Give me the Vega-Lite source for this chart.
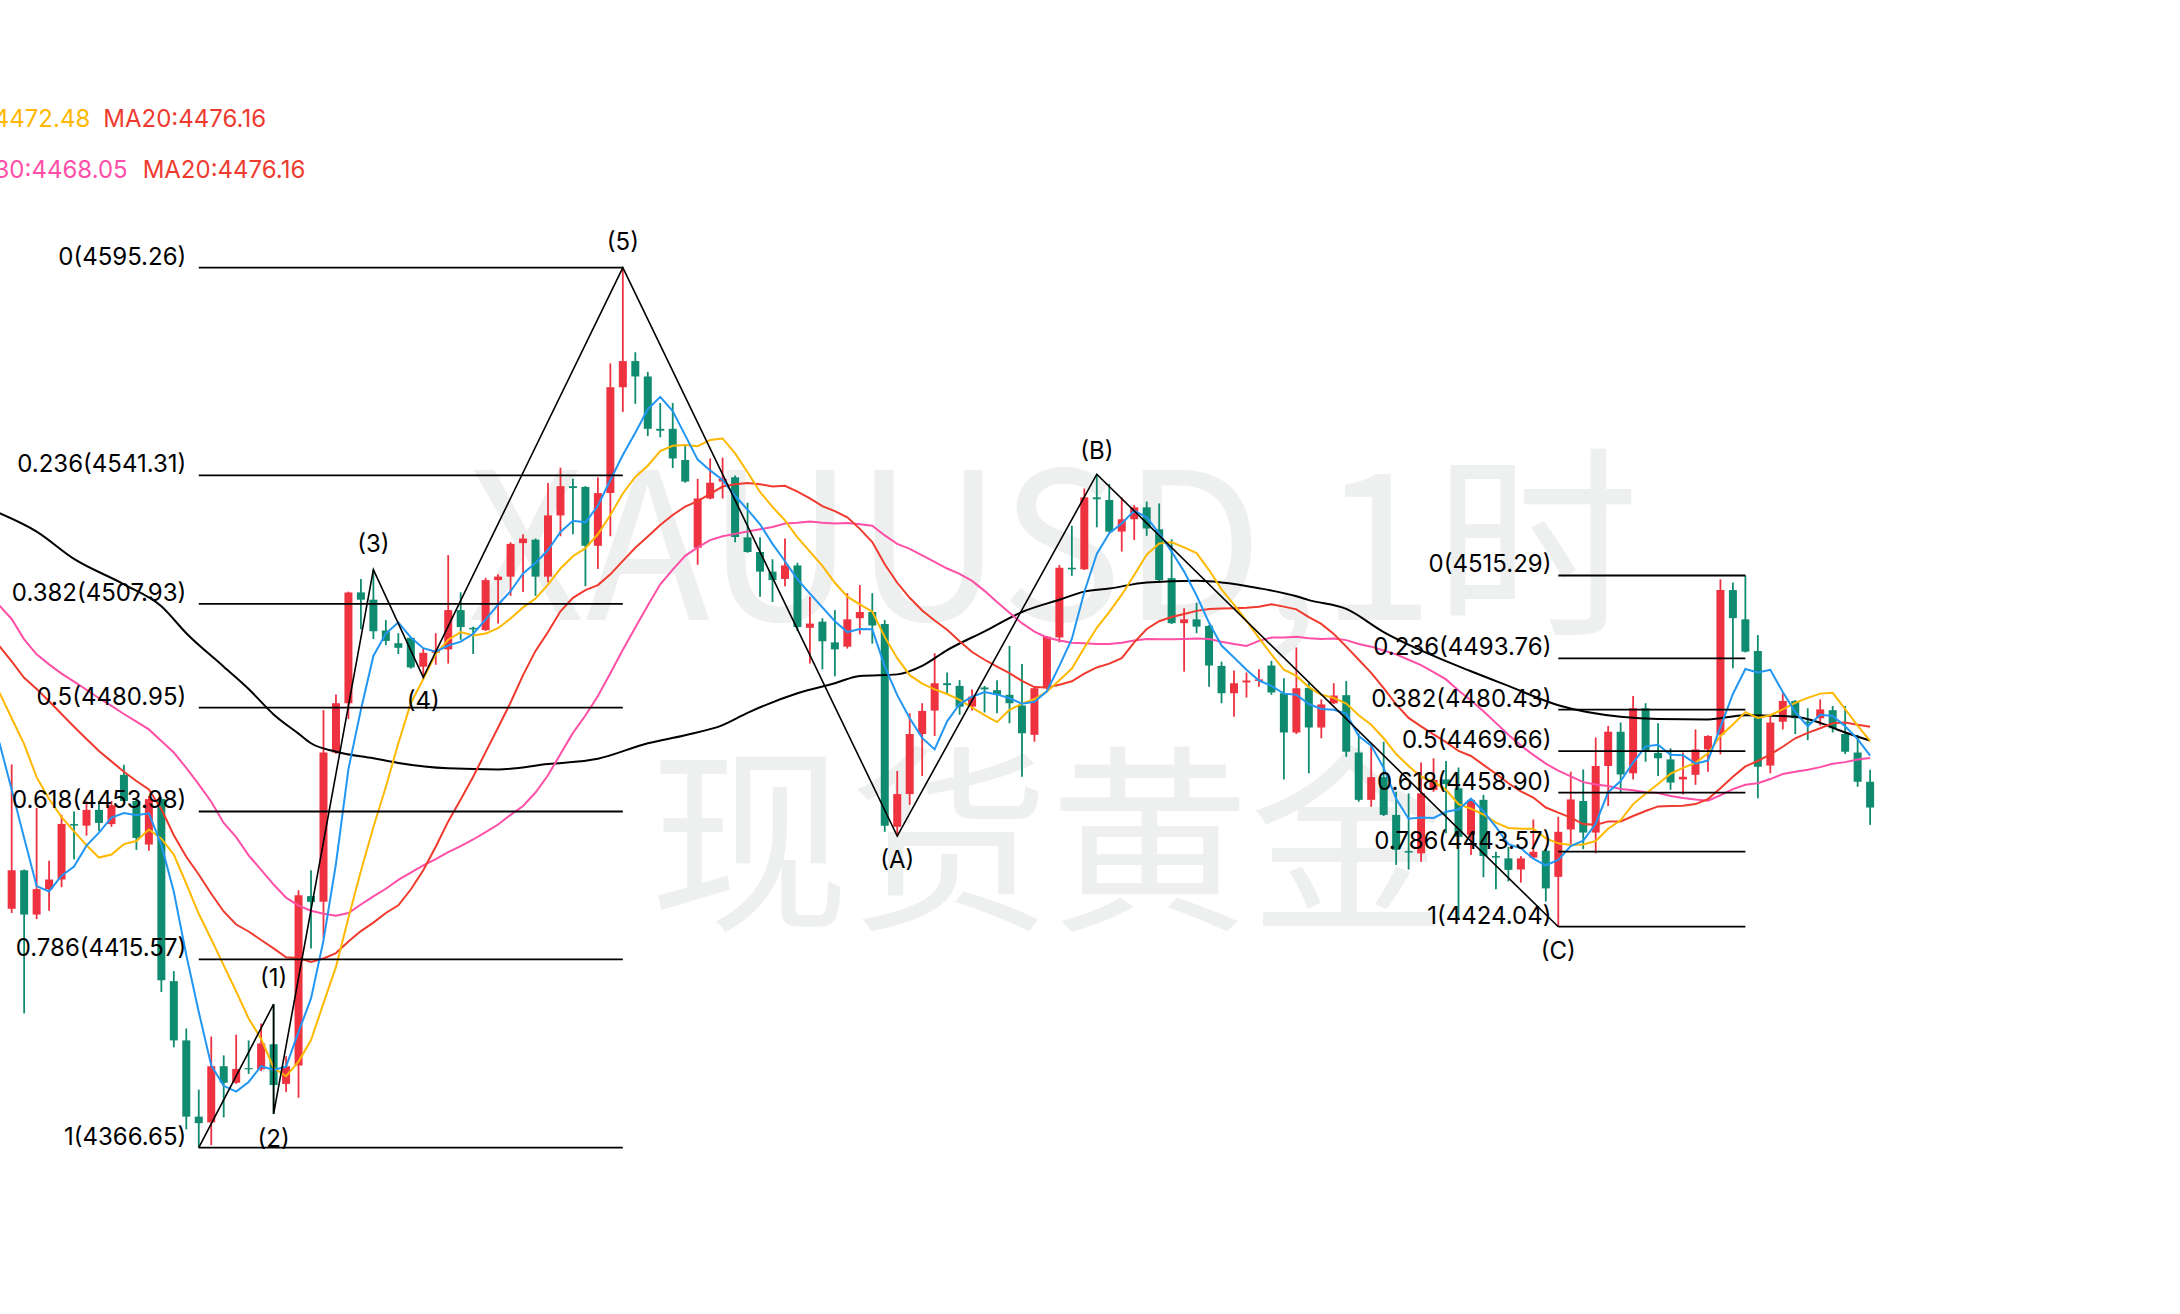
{
"$schema":"https://vega.github.io/schema/vega-lite/v6.json",
"width":2180,"height":1314,"padding":0,
"autosize":{"type":"none"},
"background":"#ffffff",
"config":{"view":{"stroke":null}},
"datasets":{
"k":[
{"i":-1,"m5":4472.0,"m10":4485.0,"m20":4497.0,"m30":4507.5},
{"i":0,"o":4428.7,"h":4466.2,"l":4427.6,"c":4438.7,"m5":4459.7,"m10":4478.2,"m20":4493.0,"m30":4504.0},
{"i":1,"o":4438.7,"h":4438.9,"l":4401.5,"c":4427.2,"m5":4447.1,"m10":4471.5,"m20":4488.7,"m30":4498.7},
{"i":2,"o":4427.2,"h":4454.9,"l":4426.0,"c":4433.8,"m5":4434.6,"m10":4462.9,"m20":4485.8,"m30":4494.8},
{"i":3,"o":4433.8,"h":4441.2,"l":4428.2,"c":4436.3,"m5":4433.2,"m10":4457.2,"m20":4482.6,"m30":4492.2},
{"i":4,"o":4436.3,"h":4453.1,"l":4434.3,"c":4450.7,"m5":4437.3,"m10":4452.5,"m20":4479.3,"m30":4489.8},
{"i":5,"o":4450.7,"h":4454.0,"l":4441.6,"c":4450.3,"m5":4439.7,"m10":4448.8,"m20":4476.0,"m30":4487.7},
{"i":6,"o":4450.3,"h":4456.7,"l":4447.7,"c":4454.4,"m5":4445.1,"m10":4445.2,"m20":4472.8,"m30":4485.6},
{"i":7,"o":4454.4,"h":4456.7,"l":4448.9,"c":4451.0,"m5":4448.5,"m10":4442.0,"m20":4469.7,"m30":4483.4},
{"i":8,"o":4450.7,"h":4456.7,"l":4450.0,"c":4455.6,"m5":4452.4,"m10":4442.8,"m20":4467.0,"m30":4481.4},
{"i":9,"o":4463.5,"h":4466.1,"l":4456.5,"c":4456.7,"m5":4453.6,"m10":4445.5,"m20":4464.3,"m30":4479.3},
{"i":10,"o":4456.7,"h":4457.2,"l":4444.0,"c":4447.1,"m5":4453.0,"m10":4446.3,"m20":4461.9,"m30":4477.3},
{"i":11,"o":4445.4,"h":4458.0,"l":4443.8,"c":4457.2,"m5":4453.5,"m10":4449.3,"m20":4459.7,"m30":4475.3},
{"i":12,"o":4457.2,"h":4457.7,"l":4407.1,"c":4410.1,"m5":4445.3,"m10":4446.9,"m20":4454.6,"m30":4472.3},
{"i":13,"o":4409.9,"h":4412.5,"l":4392.7,"c":4394.5,"m5":4433.1,"m10":4442.8,"m20":4447.8,"m30":4469.3},
{"i":14,"o":4394.5,"h":4397.6,"l":4371.4,"c":4374.7,"m5":4416.7,"m10":4435.2,"m20":4442.2,"m30":4465.3},
{"i":15,"o":4374.7,"h":4381.7,"l":4366.65,"c":4373.0,"m5":4401.9,"m10":4427.4,"m20":4437.6,"m30":4461.0},
{"i":16,"o":4373.2,"h":4395.5,"l":4367.3,"c":4387.8,"m5":4388.0,"m10":4420.8,"m20":4432.6,"m30":4456.5},
{"i":17,"o":4387.8,"h":4390.6,"l":4374.5,"c":4383.5,"m5":4382.7,"m10":4414.0,"m20":4428.0,"m30":4451.0},
{"i":18,"o":4383.5,"h":4396.0,"l":4383.2,"c":4387.1,"m5":4381.2,"m10":4407.2,"m20":4424.6,"m30":4447.3},
{"i":19,"o":4387.3,"h":4394.5,"l":4385.8,"c":4387.0,"m5":4383.7,"m10":4400.2,"m20":4422.8,"m30":4442.6},
{"i":20,"o":4387.0,"h":4398.9,"l":4386.5,"c":4393.7,"m5":4387.8,"m10":4394.9,"m20":4420.6,"m30":4438.8},
{"i":21,"o":4393.5,"h":4403.9,"l":4375.4,"c":4382.9,"m5":4386.8,"m10":4387.4,"m20":4418.4,"m30":4435.0},
{"i":22,"o":4383.2,"h":4390.4,"l":4381.1,"c":4387.8,"m5":4387.7,"m10":4385.2,"m20":4416.1,"m30":4431.6},
{"i":23,"o":4388.0,"h":4433.5,"l":4379.6,"c":4432.2,"m5":4396.7,"m10":4389.0,"m20":4415.9,"m30":4429.5},
{"i":24,"o":4432.0,"h":4438.7,"l":4418.4,"c":4430.5,"m5":4405.4,"m10":4394.6,"m20":4414.9,"m30":4428.2},
{"i":25,"o":4430.5,"h":4480.3,"l":4421.2,"c":4469.3,"m5":4420.5,"m10":4404.2,"m20":4415.8,"m30":4427.4},
{"i":26,"o":4469.3,"h":4484.4,"l":4469.0,"c":4482.1,"m5":4440.4,"m10":4413.6,"m20":4417.2,"m30":4426.9},
{"i":27,"o":4482.1,"h":4511.1,"l":4478.0,"c":4510.9,"m5":4465.0,"m10":4426.4,"m20":4420.2,"m30":4427.6},
{"i":28,"o":4510.9,"h":4514.4,"l":4501.3,"c":4509.0,"m5":4480.4,"m10":4438.5,"m20":4422.9,"m30":4429.8},
{"i":29,"o":4509.0,"h":4516.8,"l":4498.8,"c":4500.8,"m5":4494.4,"m10":4449.9,"m20":4425.1,"m30":4431.9},
{"i":30,"o":4501.0,"h":4503.7,"l":4497.2,"c":4498.3,"m5":4500.2,"m10":4460.4,"m20":4427.6,"m30":4433.9},
{"i":31,"o":4497.7,"h":4500.3,"l":4494.9,"c":4496.5,"m5":4503.1,"m10":4471.7,"m20":4429.6,"m30":4436.2},
{"i":32,"o":4499.1,"h":4499.3,"l":4491.1,"c":4491.4,"m5":4499.2,"m10":4482.1,"m20":4433.7,"m30":4438.1},
{"i":33,"o":4491.6,"h":4496.5,"l":4488.8,"c":4495.2,"m5":4496.4,"m10":4488.4,"m20":4438.7,"m30":4440.0},
{"i":34,"o":4495.2,"h":4500.3,"l":4492.1,"c":4495.9,"m5":4495.5,"m10":4494.9,"m20":4444.8,"m30":4441.6},
{"i":35,"o":4496.1,"h":4520.6,"l":4492.4,"c":4506.3,"m5":4497.1,"m10":4498.6,"m20":4451.4,"m30":4443.4},
{"i":36,"o":4506.3,"h":4510.9,"l":4498.6,"c":4501.9,"m5":4498.1,"m10":4500.6,"m20":4457.1,"m30":4445.0},
{"i":37,"o":4501.7,"h":4502.0,"l":4494.9,"c":4501.3,"m5":4500.1,"m10":4499.7,"m20":4463.0,"m30":4446.7},
{"i":38,"o":4501.1,"h":4514.7,"l":4500.9,"c":4514.1,"m5":4503.9,"m10":4500.2,"m20":4469.4,"m30":4448.6},
{"i":39,"o":4514.1,"h":4515.6,"l":4502.8,"c":4515.0,"m5":4507.7,"m10":4501.6,"m20":4475.8,"m30":4450.6},
{"i":40,"o":4515.0,"h":4523.9,"l":4510.0,"c":4523.5,"m5":4511.2,"m10":4504.1,"m20":4482.3,"m30":4453.1},
{"i":41,"o":4523.7,"h":4526.0,"l":4511.0,"c":4524.9,"m5":4515.8,"m10":4507.0,"m20":4489.4,"m30":4455.4},
{"i":42,"o":4524.6,"h":4524.9,"l":4510.0,"c":4515.0,"m5":4518.5,"m10":4509.3,"m20":4495.7,"m30":4458.9},
{"i":43,"o":4515.0,"h":4539.3,"l":4513.5,"c":4530.9,"m5":4521.9,"m10":4512.9,"m20":4500.6,"m30":4463.4},
{"i":44,"o":4530.9,"h":4543.3,"l":4525.5,"c":4538.5,"m5":4526.6,"m10":4517.1,"m20":4506.0,"m30":4468.9},
{"i":45,"o":4538.5,"h":4540.4,"l":4526.0,"c":4538.0,"m5":4529.5,"m10":4520.3,"m20":4509.5,"m30":4474.4},
{"i":46,"o":4538.3,"h":4538.5,"l":4512.5,"c":4523.0,"m5":4529.1,"m10":4522.4,"m20":4511.5,"m30":4478.9},
{"i":47,"o":4523.0,"h":4540.8,"l":4517.0,"c":4536.7,"m5":4533.4,"m10":4526.0,"m20":4512.8,"m30":4484.0},
{"i":48,"o":4536.7,"h":4570.4,"l":4525.5,"c":4564.2,"m5":4540.1,"m10":4531.0,"m20":4515.6,"m30":4489.9},
{"i":49,"o":4564.2,"h":4595.26,"l":4557.8,"c":4571.0,"m5":4546.6,"m10":4536.6,"m20":4519.1,"m30":4496.0},
{"i":50,"o":4571.0,"h":4573.3,"l":4559.9,"c":4567.0,"m5":4552.4,"m10":4540.9,"m20":4522.5,"m30":4501.8},
{"i":51,"o":4567.0,"h":4568.2,"l":4551.5,"c":4553.4,"m5":4558.5,"m10":4543.8,"m20":4525.4,"m30":4507.5},
{"i":52,"o":4553.4,"h":4560.1,"l":4551.2,"c":4552.9,"m5":4561.7,"m10":4547.6,"m20":4528.4,"m30":4513.0},
{"i":53,"o":4553.4,"h":4560.1,"l":4543.2,"c":4545.7,"m5":4558.0,"m10":4549.0,"m20":4531.0,"m30":4516.8},
{"i":54,"o":4545.3,"h":4549.0,"l":4539.4,"c":4539.7,"m5":4551.7,"m10":4549.2,"m20":4533.2,"m30":4520.4},
{"i":55,"o":4522.5,"h":4540.4,"l":4518.1,"c":4535.3,"m5":4545.4,"m10":4548.9,"m20":4534.6,"m30":4522.6},
{"i":56,"o":4535.3,"h":4545.7,"l":4535.1,"c":4539.4,"m5":4542.6,"m10":4550.5,"m20":4536.5,"m30":4524.5},
{"i":57,"o":4539.7,"h":4545.9,"l":4535.3,"c":4540.4,"m5":4540.1,"m10":4550.9,"m20":4538.4,"m30":4525.5},
{"i":58,"o":4540.8,"h":4541.3,"l":4523.9,"c":4525.3,"m5":4536.0,"m10":4547.0,"m20":4539.0,"m30":4526.1},
{"i":59,"o":4525.2,"h":4534.2,"l":4521.2,"c":4521.4,"m5":4532.4,"m10":4542.1,"m20":4539.3,"m30":4526.7},
{"i":60,"o":4521.4,"h":4525.2,"l":4509.8,"c":4516.3,"m5":4528.6,"m10":4537.0,"m20":4539.0,"m30":4527.3},
{"i":61,"o":4516.3,"h":4519.5,"l":4508.4,"c":4514.1,"m5":4523.5,"m10":4533.1,"m20":4538.4,"m30":4527.9},
{"i":62,"o":4514.4,"h":4524.9,"l":4512.5,"c":4517.9,"m5":4519.0,"m10":4529.6,"m20":4538.6,"m30":4528.8},
{"i":63,"o":4517.9,"h":4518.6,"l":4500.9,"c":4501.9,"m5":4514.3,"m10":4525.2,"m20":4537.1,"m30":4529.0},
{"i":64,"o":4501.7,"h":4509.8,"l":4492.4,"c":4502.8,"m5":4510.6,"m10":4521.5,"m20":4535.3,"m30":4529.3},
{"i":65,"o":4503.3,"h":4504.2,"l":4490.9,"c":4498.2,"m5":4507.0,"m10":4517.8,"m20":4533.3,"m30":4529.0},
{"i":66,"o":4497.9,"h":4506.3,"l":4489.1,"c":4496.1,"m5":4503.4,"m10":4513.4,"m20":4532.0,"m30":4528.8},
{"i":67,"o":4496.8,"h":4510.7,"l":4496.3,"c":4503.9,"m5":4500.6,"m10":4509.8,"m20":4530.4,"m30":4528.9},
{"i":68,"o":4504.2,"h":4512.8,"l":4500.0,"c":4505.8,"m5":4501.4,"m10":4507.8,"m20":4527.4,"m30":4528.6},
{"i":69,"o":4505.8,"h":4510.7,"l":4497.6,"c":4502.3,"m5":4501.3,"m10":4505.9,"m20":4524.0,"m30":4528.2},
{"i":70,"o":4502.7,"h":4503.7,"l":4448.7,"c":4450.3,"m5":4491.7,"m10":4499.3,"m20":4518.2,"m30":4525.7},
{"i":71,"o":4450.0,"h":4464.5,"l":4447.6,"c":4458.5,"m5":4484.2,"m10":4493.8,"m20":4513.4,"m30":4523.5},
{"i":72,"o":4458.5,"h":4479.5,"l":4455.7,"c":4474.1,"m5":4478.2,"m10":4489.4,"m20":4509.5,"m30":4522.2},
{"i":73,"o":4474.1,"h":4482.1,"l":4463.2,"c":4480.1,"m5":4473.1,"m10":4487.2,"m20":4506.2,"m30":4520.5},
{"i":74,"o":4480.2,"h":4495.1,"l":4473.6,"c":4487.3,"m5":4470.1,"m10":4485.7,"m20":4503.6,"m30":4518.8},
{"i":75,"o":4487.3,"h":4490.1,"l":4484.7,"c":4486.8,"m5":4477.4,"m10":4484.5,"m20":4501.2,"m30":4517.1},
{"i":76,"o":4486.6,"h":4488.1,"l":4479.1,"c":4481.2,"m5":4481.9,"m10":4483.0,"m20":4498.2,"m30":4515.7},
{"i":77,"o":4481.2,"h":4485.7,"l":4480.2,"c":4483.8,"m5":4483.8,"m10":4481.0,"m20":4495.4,"m30":4513.9},
{"i":78,"o":4486.2,"h":4486.6,"l":4479.7,"c":4485.7,"m5":4485.0,"m10":4479.0,"m20":4493.4,"m30":4511.3},
{"i":79,"o":4485.5,"h":4488.1,"l":4479.5,"c":4484.3,"m5":4484.4,"m10":4477.2,"m20":4491.6,"m30":4508.4},
{"i":80,"o":4484.3,"h":4497.0,"l":4476.9,"c":4482.1,"m5":4483.4,"m10":4480.4,"m20":4489.9,"m30":4505.6},
{"i":81,"o":4481.5,"h":4492.3,"l":4463.0,"c":4474.3,"m5":4482.0,"m10":4482.0,"m20":4487.9,"m30":4502.9},
{"i":82,"o":4473.9,"h":4486.2,"l":4472.1,"c":4486.0,"m5":4482.5,"m10":4483.2,"m20":4486.3,"m30":4500.7},
{"i":83,"o":4486.0,"h":4499.6,"l":4485.7,"c":4499.4,"m5":4485.2,"m10":4485.1,"m20":4486.2,"m30":4499.2},
{"i":84,"o":4499.2,"h":4518.0,"l":4497.9,"c":4517.3,"m5":4491.8,"m10":4488.1,"m20":4486.9,"m30":4498.4},
{"i":85,"o":4517.3,"h":4528.2,"l":4515.2,"c":4516.9,"m5":4498.8,"m10":4491.1,"m20":4487.8,"m30":4497.8},
{"i":86,"o":4516.9,"h":4537.9,"l":4516.7,"c":4535.6,"m5":4511.0,"m10":4496.5,"m20":4489.8,"m30":4497.7},
{"i":87,"o":4535.6,"h":4541.6,"l":4527.8,"c":4535.1,"m5":4520.9,"m10":4501.7,"m20":4491.4,"m30":4497.5},
{"i":88,"o":4534.9,"h":4539.1,"l":4526.5,"c":4526.7,"m5":4526.3,"m10":4505.8,"m20":4492.4,"m30":4497.5},
{"i":89,"o":4526.7,"h":4535.6,"l":4521.5,"c":4529.9,"m5":4528.8,"m10":4510.3,"m20":4493.8,"m30":4497.8},
{"i":90,"o":4529.9,"h":4533.6,"l":4524.5,"c":4533.0,"m5":4532.1,"m10":4515.4,"m20":4497.9,"m30":4498.4},
{"i":91,"o":4533.0,"h":4534.5,"l":4525.6,"c":4527.5,"m5":4530.4,"m10":4520.7,"m20":4501.4,"m30":4498.8},
{"i":92,"o":4527.3,"h":4534.0,"l":4513.4,"c":4514.1,"m5":4526.2,"m10":4523.6,"m20":4503.4,"m30":4498.7},
{"i":93,"o":4514.6,"h":4524.7,"l":4502.7,"c":4502.9,"m5":4521.5,"m10":4523.9,"m20":4504.5,"m30":4498.7},
{"i":94,"o":4502.9,"h":4506.8,"l":4490.3,"c":4503.9,"m5":4516.3,"m10":4522.6,"m20":4505.3,"m30":4498.8},
{"i":95,"o":4503.9,"h":4508.2,"l":4500.3,"c":4502.0,"m5":4510.1,"m10":4521.1,"m20":4506.1,"m30":4498.9},
{"i":96,"o":4502.2,"h":4502.4,"l":4486.4,"c":4491.9,"m5":4503.0,"m10":4516.7,"m20":4506.6,"m30":4498.8},
{"i":97,"o":4491.8,"h":4492.9,"l":4482.1,"c":4484.7,"m5":4497.1,"m10":4511.7,"m20":4506.7,"m30":4498.1},
{"i":98,"o":4484.7,"h":4490.6,"l":4478.6,"c":4487.3,"m5":4494.0,"m10":4507.7,"m20":4506.8,"m30":4497.5},
{"i":99,"o":4487.5,"h":4490.1,"l":4483.6,"c":4488.0,"m5":4490.8,"m10":4503.5,"m20":4506.9,"m30":4497.0},
{"i":100,"o":4487.9,"h":4490.9,"l":4486.4,"c":4488.3,"m5":4488.0,"m10":4499.1,"m20":4507.2,"m30":4498.3},
{"i":101,"o":4491.9,"h":4493.1,"l":4484.3,"c":4484.9,"m5":4486.6,"m10":4494.8,"m20":4507.8,"m30":4499.2},
{"i":102,"o":4484.7,"h":4488.6,"l":4462.3,"c":4474.5,"m5":4484.6,"m10":4490.8,"m20":4507.2,"m30":4499.2},
{"i":103,"o":4474.5,"h":4496.6,"l":4474.1,"c":4486.0,"m5":4484.3,"m10":4489.2,"m20":4506.5,"m30":4499.4},
{"i":104,"o":4486.1,"h":4487.3,"l":4463.9,"c":4475.8,"m5":4481.9,"m10":4486.3,"m20":4504.5,"m30":4499.0},
{"i":105,"o":4475.8,"h":4483.1,"l":4473.0,"c":4481.8,"m5":4480.6,"m10":4484.3,"m20":4502.7,"m30":4498.8},
{"i":106,"o":4482.1,"h":4487.3,"l":4481.9,"c":4484.1,"m5":4480.4,"m10":4483.5,"m20":4500.1,"m30":4498.9},
{"i":107,"o":4484.2,"h":4487.9,"l":4468.2,"c":4469.5,"m5":4479.4,"m10":4482.0,"m20":4496.8,"m30":4498.5},
{"i":108,"o":4469.3,"h":4474.3,"l":4456.5,"c":4457.0,"m5":4473.6,"m10":4479.0,"m20":4493.4,"m30":4497.5},
{"i":109,"o":4457.0,"h":4471.2,"l":4455.2,"c":4462.9,"m5":4471.1,"m10":4476.5,"m20":4490.0,"m30":4496.8},
{"i":110,"o":4462.9,"h":4472.1,"l":4452.8,"c":4453.1,"m5":4465.3,"m10":4473.0,"m20":4486.0,"m30":4495.8},
{"i":111,"o":4453.1,"h":4459.1,"l":4440.1,"c":4444.0,"m5":4457.3,"m10":4468.9,"m20":4481.8,"m30":4494.8},
{"i":112,"o":4443.7,"h":4458.7,"l":4438.9,"c":4443.3,"m5":4452.1,"m10":4465.8,"m20":4478.3,"m30":4493.4},
{"i":113,"o":4443.1,"h":4466.7,"l":4440.9,"c":4458.7,"m5":4452.4,"m10":4463.0,"m20":4476.1,"m30":4492.0},
{"i":114,"o":4459.6,"h":4467.8,"l":4459.1,"c":4462.2,"m5":4452.3,"m10":4461.7,"m20":4474.0,"m30":4490.2},
{"i":115,"o":4462.3,"h":4467.1,"l":4448.3,"c":4461.1,"m5":4453.9,"m10":4459.6,"m20":4472.0,"m30":4488.3},
{"i":116,"o":4460.0,"h":4465.4,"l":4426.2,"c":4447.4,"m5":4454.5,"m10":4455.9,"m20":4469.7,"m30":4485.4},
{"i":117,"o":4447.9,"h":4457.1,"l":4442.7,"c":4457.0,"m5":4457.3,"m10":4454.7,"m20":4468.4,"m30":4482.8},
{"i":118,"o":4457.0,"h":4458.3,"l":4436.9,"c":4442.4,"m5":4454.0,"m10":4453.2,"m20":4466.1,"m30":4480.0},
{"i":119,"o":4442.4,"h":4443.5,"l":4433.8,"c":4442.0,"m5":4450.0,"m10":4451.1,"m20":4463.8,"m30":4477.0},
{"i":120,"o":4441.8,"h":4444.8,"l":4435.8,"c":4438.8,"m5":4445.5,"m10":4449.7,"m20":4461.3,"m30":4473.9},
{"i":121,"o":4438.9,"h":4442.4,"l":4435.5,"c":4441.8,"m5":4444.4,"m10":4449.5,"m20":4459.2,"m30":4471.1},
{"i":122,"o":4442.0,"h":4451.9,"l":4441.8,"c":4443.5,"m5":4441.7,"m10":4449.5,"m20":4457.6,"m30":4468.7},
{"i":123,"o":4443.8,"h":4444.4,"l":4430.6,"c":4434.0,"m5":4440.0,"m10":4447.0,"m20":4455.0,"m30":4466.4},
{"i":124,"o":4437.0,"h":4452.6,"l":4424.04,"c":4448.7,"m5":4441.4,"m10":4445.7,"m20":4453.7,"m30":4464.6},
{"i":125,"o":4449.3,"h":4464.3,"l":4445.3,"c":4457.1,"m5":4445.0,"m10":4445.3,"m20":4452.4,"m30":4463.1},
{"i":126,"o":4456.7,"h":4464.9,"l":4444.2,"c":4448.5,"m5":4446.4,"m10":4445.4,"m20":4450.7,"m30":4461.6},
{"i":127,"o":4448.5,"h":4473.2,"l":4443.1,"c":4465.8,"m5":4450.8,"m10":4446.3,"m20":4450.5,"m30":4461.0},
{"i":128,"o":4465.8,"h":4476.2,"l":4455.4,"c":4474.7,"m5":4459.0,"m10":4449.5,"m20":4451.4,"m30":4460.6},
{"i":129,"o":4474.7,"h":4477.1,"l":4458.7,"c":4463.6,"m5":4461.9,"m10":4451.7,"m20":4451.4,"m30":4459.8},
{"i":130,"o":4463.9,"h":4484.0,"l":4462.3,"c":4480.8,"m5":4466.7,"m10":4455.9,"m20":4452.8,"m30":4459.5},
{"i":131,"o":4480.8,"h":4482.1,"l":4466.9,"c":4469.7,"m5":4470.9,"m10":4458.6,"m20":4454.1,"m30":4459.0},
{"i":132,"o":4469.2,"h":4476.9,"l":4463.2,"c":4467.8,"m5":4471.3,"m10":4461.1,"m20":4455.3,"m30":4458.8},
{"i":133,"o":4467.5,"h":4470.4,"l":4459.6,"c":4461.5,"m5":4468.7,"m10":4463.8,"m20":4455.4,"m30":4458.0},
{"i":134,"o":4462.3,"h":4469.3,"l":4458.4,"c":4463.0,"m5":4468.6,"m10":4465.3,"m20":4455.5,"m30":4457.5},
{"i":135,"o":4463.5,"h":4475.3,"l":4460.9,"c":4470.1,"m5":4466.4,"m10":4466.6,"m20":4455.9,"m30":4457.1},
{"i":136,"o":4470.1,"h":4473.8,"l":4464.3,"c":4473.6,"m5":4467.2,"m10":4469.1,"m20":4457.2,"m30":4456.8},
{"i":137,"o":4473.9,"h":4514.3,"l":4468.8,"c":4511.5,"m5":4475.9,"m10":4473.6,"m20":4460.0,"m30":4458.2},
{"i":138,"o":4511.5,"h":4513.5,"l":4491.2,"c":4504.2,"m5":4484.5,"m10":4476.6,"m20":4463.0,"m30":4459.8},
{"i":139,"o":4503.9,"h":4515.29,"l":4495.3,"c":4495.5,"m5":4491.0,"m10":4479.8,"m20":4465.7,"m30":4460.9},
{"i":140,"o":4495.7,"h":4499.8,"l":4457.4,"c":4465.6,"m5":4490.1,"m10":4478.3,"m20":4467.1,"m30":4461.3},
{"i":141,"o":4465.9,"h":4479.0,"l":4463.9,"c":4477.1,"m5":4490.8,"m10":4479.0,"m20":4468.8,"m30":4462.4},
{"i":142,"o":4477.3,"h":4484.9,"l":4475.3,"c":4482.7,"m5":4485.0,"m10":4480.5,"m20":4470.8,"m30":4463.7},
{"i":143,"o":4482.7,"h":4482.9,"l":4474.1,"c":4478.2,"m5":4479.8,"m10":4482.2,"m20":4473.0,"m30":4464.3},
{"i":144,"o":4477.3,"h":4480.8,"l":4472.5,"c":4476.9,"m5":4476.1,"m10":4483.5,"m20":4474.4,"m30":4464.8},
{"i":145,"o":4478.2,"h":4483.1,"l":4476.3,"c":4480.5,"m5":4479.1,"m10":4484.6,"m20":4475.6,"m30":4465.5},
{"i":146,"o":4480.3,"h":4481.4,"l":4474.5,"c":4475.6,"m5":4478.8,"m10":4484.8,"m20":4476.9,"m30":4466.4},
{"i":147,"o":4474.1,"h":4481.4,"l":4468.9,"c":4469.5,"m5":4476.1,"m10":4480.6,"m20":4477.1,"m30":4466.8},
{"i":148,"o":4469.3,"h":4473.9,"l":4460.4,"c":4461.7,"m5":4472.8,"m10":4476.3,"m20":4476.5,"m30":4467.5},
{"i":149,"o":4461.7,"h":4464.8,"l":4450.5,"c":4455.0,"m5":4468.5,"m10":4472.3,"m20":4476.0,"m30":4467.9}
],
"m60":[
{"i":-1,"v":4531.5},{"i":2,"v":4526.7},{"i":5,"v":4519.6},{"i":9,"v":4513.0},{"i":12,"v":4507.3},{"i":14,"v":4500.3},{"i":17,"v":4491.6},{"i":19,"v":4485.8},{"i":21,"v":4479.2},{"i":23,"v":4474.2},{"i":24,"v":4471.7},{"i":26,"v":4469.5},{"i":29,"v":4467.8},{"i":31,"v":4466.6},{"i":35,"v":4465.2},{"i":39,"v":4464.9},{"i":43,"v":4466.3},{"i":47,"v":4467.7},{"i":51,"v":4471.7},{"i":54,"v":4473.8},{"i":57,"v":4476.4},{"i":59,"v":4479.6},{"i":63,"v":4484.7},{"i":66,"v":4487.3},{"i":68,"v":4489.2},{"i":71,"v":4489.6},{"i":73,"v":4491.8},{"i":75,"v":4495.9},{"i":78,"v":4500.8},{"i":81,"v":4505.8},{"i":84,"v":4509.0},{"i":86,"v":4511.1},{"i":88,"v":4511.9},{"i":91,"v":4513.5},{"i":95,"v":4513.9},{"i":97,"v":4513.5},{"i":100,"v":4512.0},{"i":103,"v":4509.9},{"i":104,"v":4508.9},{"i":107,"v":4506.6},{"i":110,"v":4500.6},{"i":114,"v":4494.4},{"i":117,"v":4490.4},{"i":120,"v":4486.6},{"i":124,"v":4481.6},{"i":129,"v":4478.6},{"i":132,"v":4478.0},{"i":136,"v":4477.9},{"i":139,"v":4479.0},{"i":143,"v":4478.6},{"i":145,"v":4477.0},{"i":147,"v":4474.5},{"i":149,"v":4472.4}
],
"fib":[
{"x1":15,"x2":49,"lx":14.0,"p":4595.26,"t":"0(4595.26)"},
{"x1":15,"x2":49,"lx":14.0,"p":4541.31,"t":"0.236(4541.31)"},
{"x1":15,"x2":49,"lx":14.0,"p":4507.93,"t":"0.382(4507.93)"},
{"x1":15,"x2":49,"lx":14.0,"p":4480.95,"t":"0.5(4480.95)"},
{"x1":15,"x2":49,"lx":14.0,"p":4453.98,"t":"0.618(4453.98)"},
{"x1":15,"x2":49,"lx":14.0,"p":4415.57,"t":"0.786(4415.57)"},
{"x1":15,"x2":49,"lx":14.0,"p":4366.65,"t":"1(4366.65)"},
{"x1":124,"x2":139,"lx":123.45,"p":4515.29,"t":"0(4515.29)"},
{"x1":124,"x2":139,"lx":123.45,"p":4493.76,"t":"0.236(4493.76)"},
{"x1":124,"x2":139,"lx":123.45,"p":4480.43,"t":"0.382(4480.43)"},
{"x1":124,"x2":139,"lx":123.45,"p":4469.66,"t":"0.5(4469.66)"},
{"x1":124,"x2":139,"lx":123.45,"p":4458.90,"t":"0.618(4458.90)"},
{"x1":124,"x2":139,"lx":123.45,"p":4443.57,"t":"0.786(4443.57)"},
{"x1":124,"x2":139,"lx":123.45,"p":4424.04,"t":"1(4424.04)"}
],
"wave":[
{"k":0,"i":15,"p":4366.65},{"k":1,"i":21,"p":4403.9},{"k":2,"i":21,"p":4375.4},{"k":3,"i":29,"p":4516.8},{"k":4,"i":33,"p":4488.8},{"k":5,"i":49,"p":4595.26},{"k":6,"i":71,"p":4447.6},{"k":7,"i":87,"p":4541.6},{"k":8,"i":124,"p":4424.04}
],
"wl":[
{"i":21,"p":4410.5,"t":"(1)"},{"i":21,"p":4368.7,"t":"(2)"},{"i":29,"p":4523.2,"t":"(3)"},{"i":33,"p":4482.4,"t":"(4)"},{"i":49,"p":4601.6,"t":"(5)"},{"i":71,"p":4441.0,"t":"(A)"},{"i":87,"p":4547.5,"t":"(B)"},{"i":124,"p":4417.5,"t":"(C)"}
]
},
"layer":[
{"data":{"values":[{"t":"XAUUSD,1时"}]},
 "mark":{"type":"text","font":"Noto Sans CJK SC","fontSize":205,"color":"#eef0ef","align":"center","baseline":"alphabetic"},
 "encoding":{"x":{"datum":83.5,"type":"quantitative","scale":{"domain":[-0.535,173.445],"nice":false,"zero":false},"axis":null},
 "y":{"datum":4503.7,"type":"quantitative","scale":{"domain":[4323.42,4664.81],"nice":false,"zero":false},"axis":null},
 "text":{"field":"t"}}},
{"data":{"values":[{"t":"现货黄金"}]},
 "mark":{"type":"text","font":"Noto Sans CJK SC","fontSize":200,"color":"#eef0ef","align":"center","baseline":"alphabetic"},
 "encoding":{"x":{"datum":83.2,"type":"quantitative"},"y":{"datum":4427.1,"type":"quantitative"},"text":{"field":"t"}}},
{"data":{"name":"k"},"transform":[{"filter":"isValid(datum.o)"}],
 "mark":{"type":"rule","strokeWidth":1.8},
 "encoding":{"x":{"field":"i","type":"quantitative"},"y":{"field":"l","type":"quantitative"},"y2":{"field":"h"},
 "color":{"condition":{"test":"datum.c >= datum.o","value":"#ee3240"},"value":"#0f8b6f"}}},
{"data":{"name":"k"},"transform":[{"filter":"isValid(datum.o)"}],
 "mark":{"type":"bar","width":8},
 "encoding":{"x":{"field":"i","type":"quantitative"},"y":{"field":"o","type":"quantitative"},"y2":{"field":"c"},
 "color":{"condition":{"test":"datum.c >= datum.o","value":"#ee3240"},"value":"#0f8b6f"}}},
{"data":{"name":"m60"},"mark":{"type":"line","color":"#000000","strokeWidth":2,"interpolate":"monotone"},
 "encoding":{"x":{"field":"i","type":"quantitative"},"y":{"field":"v","type":"quantitative"}}},
{"data":{"name":"k"},"mark":{"type":"line","color":"#ff4fa6","strokeWidth":2},
 "encoding":{"x":{"field":"i","type":"quantitative"},"y":{"field":"m30","type":"quantitative"}}},
{"data":{"name":"k"},"mark":{"type":"line","color":"#f03a2e","strokeWidth":2},
 "encoding":{"x":{"field":"i","type":"quantitative"},"y":{"field":"m20","type":"quantitative"}}},
{"data":{"name":"k"},"mark":{"type":"line","color":"#ffb800","strokeWidth":2},
 "encoding":{"x":{"field":"i","type":"quantitative"},"y":{"field":"m10","type":"quantitative"}}},
{"data":{"name":"k"},"mark":{"type":"line","color":"#2196f3","strokeWidth":2},
 "encoding":{"x":{"field":"i","type":"quantitative"},"y":{"field":"m5","type":"quantitative"}}},
{"mark":{"type":"rule","color":"#0f8b6f","strokeWidth":2,"strokeDash":[2,4]},
 "encoding":{"y":{"datum":4455.0,"type":"quantitative"}}},
{"data":{"name":"fib"},"mark":{"type":"rule","color":"#000000","strokeWidth":1.8},
 "encoding":{"x":{"field":"x1","type":"quantitative"},"x2":{"field":"x2"},"y":{"field":"p","type":"quantitative"}}},
{"data":{"name":"fib"},"mark":{"type":"text","font":"Inter","fontSize":24,"color":"#000000","align":"right","baseline":"alphabetic","dy":-3},
 "encoding":{"x":{"field":"lx","type":"quantitative"},"y":{"field":"p","type":"quantitative"},"text":{"field":"t"}}},
{"data":{"name":"wave"},"mark":{"type":"line","color":"#000000","strokeWidth":1.6},
 "encoding":{"x":{"field":"i","type":"quantitative"},"y":{"field":"p","type":"quantitative"},"order":{"field":"k"}}},
{"data":{"name":"wl"},"mark":{"type":"text","font":"Inter","fontSize":24,"color":"#000000","align":"center","baseline":"middle"},
 "encoding":{"x":{"field":"i","type":"quantitative"},"y":{"field":"p","type":"quantitative"},"text":{"field":"t"}}},
{"data":{"values":[{"t":"MA10:4472.48"}]},
 "mark":{"type":"text","font":"Inter","fontSize":24,"color":"#ffb800","align":"right","baseline":"alphabetic"},
 "encoding":{"x":{"datum":6.3,"type":"quantitative"},"y":{"datum":4631.9,"type":"quantitative"},"text":{"field":"t"}}},
{"data":{"values":[{"t":"MA20:4476.16"}]},
 "mark":{"type":"text","font":"Inter","fontSize":24,"color":"#ee3b30","align":"left","baseline":"alphabetic"},
 "encoding":{"x":{"datum":7.35,"type":"quantitative"},"y":{"datum":4631.9,"type":"quantitative"},"text":{"field":"t"}}},
{"data":{"values":[{"t":"MA30:4468.05"}]},
 "mark":{"type":"text","font":"Inter","fontSize":24,"color":"#ff4fa8","align":"right","baseline":"alphabetic"},
 "encoding":{"x":{"datum":9.3,"type":"quantitative"},"y":{"datum":4618.5,"type":"quantitative"},"text":{"field":"t"}}},
{"data":{"values":[{"t":"MA20:4476.16"}]},
 "mark":{"type":"text","font":"Inter","fontSize":24,"color":"#ee3b30","align":"left","baseline":"alphabetic"},
 "encoding":{"x":{"datum":10.5,"type":"quantitative"},"y":{"datum":4618.5,"type":"quantitative"},"text":{"field":"t"}}}
]
}
